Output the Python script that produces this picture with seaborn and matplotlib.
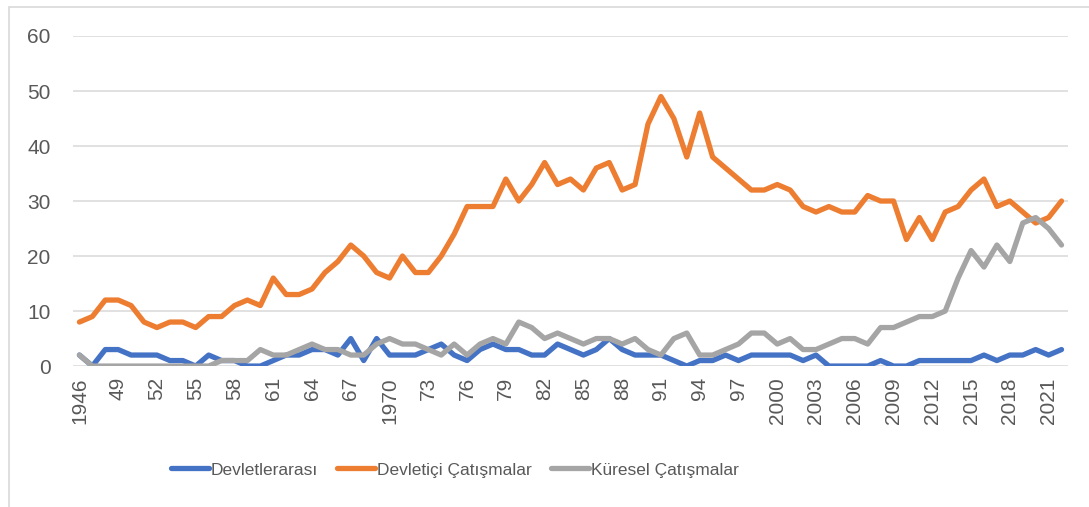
import matplotlib
matplotlib.use("Agg")
import matplotlib.pyplot as plt
from matplotlib.patches import Rectangle
import pandas as pd
import seaborn as sns

# yillar 1946-2022
years = list(range(1946, 2023))
tick_years = list(range(1946, 2023, 3))
tick_labels = ["1946", "49", "52", "55", "58", "61", "64", "67", "1970", "73", "76", "79", "82",
               "85", "88", "91", "94", "97", "2000", "2003", "2006", "2009", "2012", "2015",
               "2018", "2021"]

devletlerarasi = [2, 0, 3, 3, 2, 2, 2, 1, 1, 0,
                  2, 1, 1, 0, 0, 1, 2, 2, 3, 3,
                  2, 5, 1, 5, 2, 2, 2, 3, 4, 2,
                  1, 3, 4, 3, 3, 2, 2, 4, 3, 2,
                  3, 5, 3, 2, 2, 2, 1, 0, 1, 1,
                  2, 1, 2, 2, 2, 2, 1, 2, 0, 0,
                  0, 0, 1, 0, 0, 1, 1, 1, 1, 1,
                  2, 1, 2, 2, 3, 2, 3]
devletici = [8, 9, 12, 12, 11, 8, 7, 8, 8, 7,
             9, 9, 11, 12, 11, 16, 13, 13, 14, 17,
             19, 22, 20, 17, 16, 20, 17, 17, 20, 24,
             29, 29, 29, 34, 30, 33, 37, 33, 34, 32,
             36, 37, 32, 33, 44, 49, 45, 38, 46, 38,
             36, 34, 32, 32, 33, 32, 29, 28, 29, 28,
             28, 31, 30, 30, 23, 27, 23, 28, 29, 32,
             34, 29, 30, 28, 26, 27, 30]
kuresel = [2, 0, 0, 0, 0, 0, 0, 0, 0, 0,
           0, 1, 1, 1, 3, 2, 2, 3, 4, 3,
           3, 2, 2, 4, 5, 4, 4, 3, 2, 4,
           2, 4, 5, 4, 8, 7, 5, 6, 5, 4,
           5, 5, 4, 5, 3, 2, 5, 6, 2, 2,
           3, 4, 6, 6, 4, 5, 3, 3, 4, 5,
           5, 4, 7, 7, 8, 9, 9, 10, 16, 21,
           18, 22, 19, 26, 27, 25, 22]

series_names = ["Devletlerarası", "Devletiçi Çatışmalar", "Küresel Çatışmalar"]
colors = ["#4472C4", "#ED7D31", "#A5A5A5"]

df = pd.DataFrame({"year": years * 3,
                   "value": devletlerarasi + devletici + kuresel,
                   "seri": [series_names[0]] * len(years) + [series_names[1]] * len(years)
                           + [series_names[2]] * len(years)})

sns.set_theme(style="white")
plt.rcParams['font.family'] = ['Liberation Sans', 'DejaVu Sans']
text_color = "#595959"

fig = plt.figure(figsize=(10.89, 5.07), dpi=100)
ax = fig.add_axes([0.067, 0.278, 0.9137, 0.651])

sns.lineplot(data=df, x="year", y="value", hue="seri", hue_order=series_names,
             palette=colors, linewidth=3.8, ax=ax,
             solid_capstyle="round", solid_joinstyle="round")

ax.set_xlim(1945.5, 2022.5)
ax.set_ylim(0, 60)
ax.set_yticks([0, 10, 20, 30, 40, 50, 60])
ax.set_xticks(tick_years)
ax.set_xticklabels(tick_labels, rotation=90, va="top", ha="center")
ax.tick_params(axis="y", length=0, pad=16, labelsize=15, labelcolor=text_color)
ax.tick_params(axis="x", length=0, pad=8, labelsize=15, labelcolor=text_color)
ax.grid(axis="y", color="#D9D9D9", linewidth=1.1)
ax.set_axisbelow(True)
for s in ax.spines.values():
    s.set_visible(False)
ax.set_xlabel("")
ax.set_ylabel("")

handles, labels = ax.get_legend_handles_labels()
ax.get_legend().remove()
leg = fig.legend(handles, labels, loc="center left", bbox_to_anchor=(162 / 1089, 1 - 470 / 507),
                 ncol=3, frameon=False, borderpad=0, handlelength=2.2, handletextpad=0.1,
                 columnspacing=1.1, prop={"size": 12.5})
for t in leg.get_texts():
    t.set_color(text_color)
for h in leg.get_lines():
    h.set_linewidth(3.8)
    h.set_solid_capstyle("round")

# cerceve
fig.add_artist(Rectangle((8.5 / 1089, -0.5), 2, 1.5 - 6.5 / 507, transform=fig.transFigure,
                         fill=False, edgecolor="#D9D9D9", linewidth=1.2))

fig.savefig("out.png", dpi=100)
